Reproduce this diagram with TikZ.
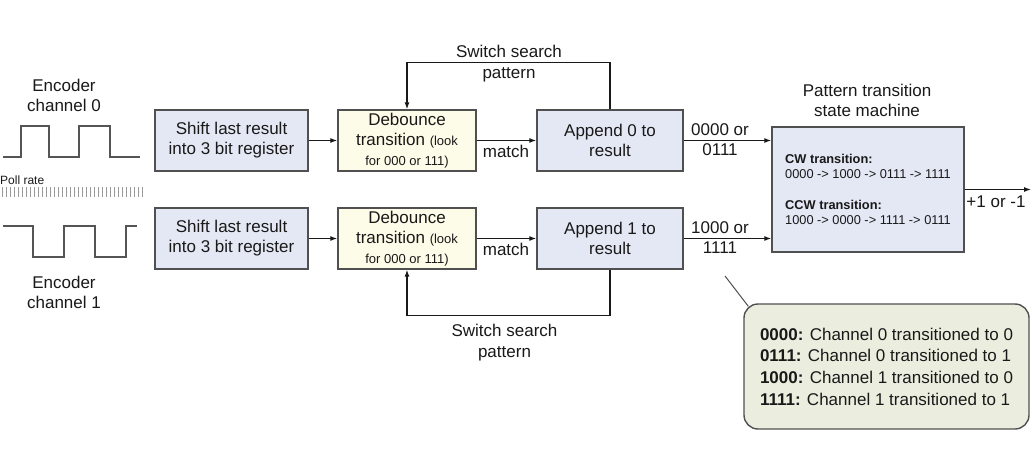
\documentclass[tikz,border=0pt]{standalone}
\usepackage{fontspec}
\setmainfont{Liberation Sans}
\usetikzlibrary{arrows.meta,calc}
\definecolor{boxblue}{RGB}{227,232,244}
\definecolor{boxyellow}{RGB}{253,252,232}
\definecolor{boxgreen}{RGB}{235,238,223}
\definecolor{boxline}{RGB}{80,80,80}
\definecolor{txt}{RGB}{25,25,25}
\definecolor{wave}{RGB}{85,85,85}
\newcommand{\smallf}{\fontsize{13}{20}\selectfont}
\begin{document}
\begin{tikzpicture}[x=1pt,y=-1pt,
  blk/.style={draw=boxline,line width=1.4pt,fill=boxblue,minimum height=61pt,inner sep=0pt,align=center,font=\fontsize{17}{20}\selectfont,text=txt},
  deb/.style={blk,fill=boxyellow},
  lbl/.style={align=center,inner sep=0pt,font=\fontsize{17}{20}\selectfont,text=txt},
  arr/.style={draw=txt,line width=1.1pt,-{Latex[length=7pt,width=5pt]}},
  ln/.style={draw=txt,line width=1.1pt},
  wv/.style={draw=wave,line width=1.6pt},
  tick/.style={draw=black!40,line width=0.6pt},
  co/.style={draw=boxline,line width=1.4pt,fill=boxgreen,rounded corners=14pt,inner sep=0pt,align=left,font=\fontsize{17}{21.7}\selectfont,text=txt}
]
\useasboundingbox (0,0) rectangle (1032,470);
\fill[white] (0,0) rectangle (1032,470);

% waveforms
\draw[wv] (3,157) -- (21,157) -- (21,126) -- (49,126) -- (49,157) -- (79,157) -- (79,126) -- (110,126) -- (110,157) -- (140,157);
\draw[wv] (3,226) -- (33,226) -- (33,257) -- (64,257) -- (64,226) -- (95,226) -- (95,257) -- (126,257) -- (126,226) -- (137,226);
\foreach \i in {0,...,35} \draw[tick] ({2+4*\i},187) -- ++(0,10);
\node[lbl,anchor=west,font=\fontsize{12}{14}\selectfont] (poll) at (0,180) {Poll rate};
\node[lbl] (enc0) at (64,95) {Encoder\\channel 0};
\node[lbl] (enc1) at (64,292) {Encoder\\channel 1};

% row 0
\node[blk,minimum width=153pt] (sh0) at (231.5,140.5) {Shift last result\\into 3 bit register};
\node[deb,minimum width=138pt] (db0) at (407,140.5) {Debounce\\transition {\smallf(look}\\{\smallf for 000 or 111)}};
\node[blk,minimum width=146pt] (ap0) at (610,140.5) {Append 0 to\\result};
% row 1
\node[blk,minimum width=153pt] (sh1) at (231.5,238.5) {Shift last result\\into 3 bit register};
\node[deb,minimum width=138pt] (db1) at (407,238.5) {Debounce\\transition {\smallf(look}\\{\smallf for 000 or 111)}};
\node[blk,minimum width=146pt] (ap1) at (610,238.5) {Append 1 to\\result};

% state machine
\node[blk,minimum width=192pt,minimum height=125pt,align=left,font=\fontsize{12.8}{15}\selectfont] (sm) at (868,189.5)
  {\textbf{CW transition:}\\0000 -> 1000 -> 0111 -> 1111\\[16pt]\textbf{CCW transition:}\\1000 -> 0000 -> 1111 -> 0111};
\node[lbl] (smt) at (867,100) {Pattern transition\\state machine};

% connectors
\draw[arr] (sh0) -- (db0);
\draw[arr] (db0) -- (ap0);
\draw[arr] (sh1) -- (db1);
\draw[arr] (db1) -- (ap1);
\draw[arr] (ap0.east) -- (ap0.east -| sm.west);
\draw[arr] (ap1.east) -- (ap1.east -| sm.west);
\coordinate (out) at (1031,189.5);
\draw[arr] (sm.east) -- (out);
\draw[arr] (ap0.north) -- ++(0,-46.5) -| (db0.north);
\draw[arr] (ap1.south) -- ++(0,45.5) -| (db1.south);

% labels
\node[lbl] (m0) at (506,151) {match};
\node[lbl] (m1) at (506,249) {match};
\node[lbl] (o0) at (720,140) {0000 or\\0111};
\node[lbl] (o1) at (720,238) {1000 or\\1111};
\node[lbl] (pm) at (996,202) {+1 or -1};
\node[lbl,font=\fontsize{17}{21}\selectfont] (sw0) at (509,63.5) {Switch search\\pattern};
\node[lbl,font=\fontsize{17}{21}\selectfont] (sw1) at (504.5,342.5) {Switch search\\pattern};

% callout
\node[co,minimum width=285pt,minimum height=125pt] (note) at (886.5,366.5)
  {\textbf{0000:} Channel 0 transitioned to 0\\\textbf{0111:} Channel 0 transitioned to 1\\\textbf{1000:} Channel 1 transitioned to 0\\\textbf{1111:} Channel 1 transitioned to 1};
\coordinate (cp) at (725,276);
\draw[draw=boxline,line width=1pt] (cp) -- ($(note.north west)+(5,3)$);
\end{tikzpicture}
\end{document}
